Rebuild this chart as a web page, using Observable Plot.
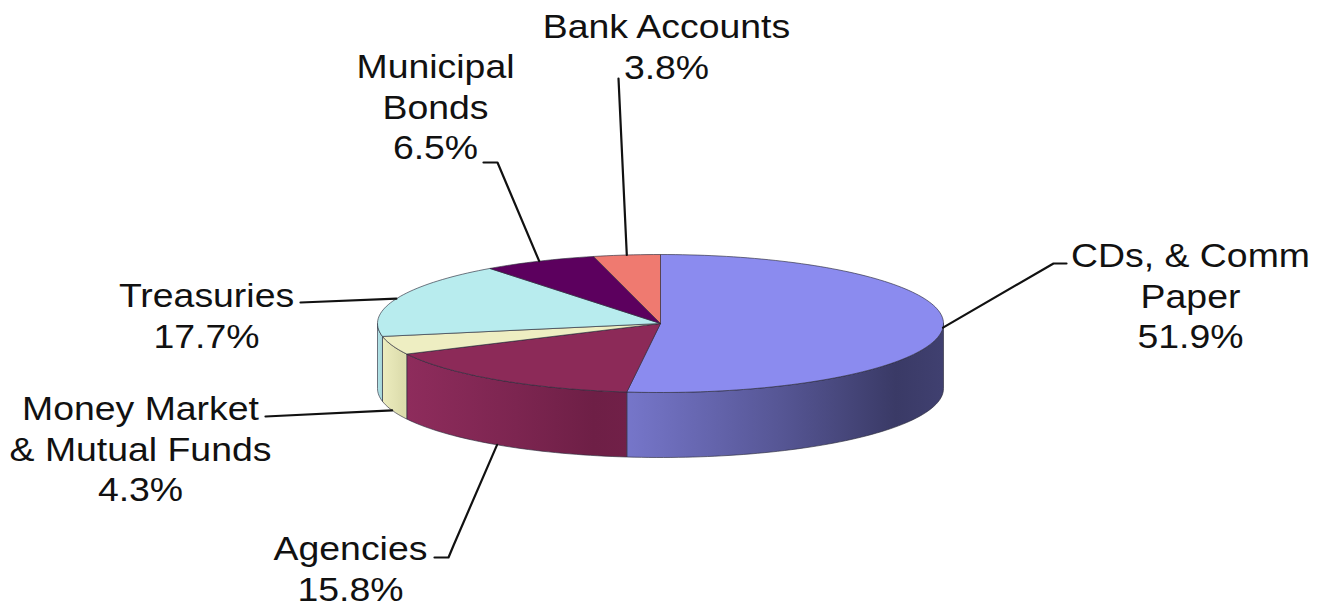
<!DOCTYPE html>
<html><head><meta charset="utf-8">
<script src="https://cdn.jsdelivr.net/npm/d3@7"></script>
<script src="https://cdn.jsdelivr.net/npm/@observablehq/plot@0.6"></script>
<style>body{margin:0;background:#fff}</style>
</head><body><div id="chart"></div>
<script>
// ---- data ----
const categories = ["CDs, & Comm Paper", "Agencies", "Money Market & Mutual Funds", "Treasuries", "Municipal Bonds", "Bank Accounts"];
const labelLines = [["CDs, & Comm", "Paper"], ["Agencies"], ["Money Market", "& Mutual Funds"], ["Treasuries"], ["Municipal", "Bonds"], ["Bank Accounts"]];
const values = [51.9, 15.8, 4.3, 17.7, 6.5, 3.8];
const topColors = ["#8b8bef", "#8c2a58", "#eeeec2", "#b8ecee", "#5c005e", "#ef7a70"];
const sideLight = ["#7676ca", "#8e2c5c", "#ececbe", "#b2e4e8", "#5c005e", "#ef7a70"];
const sideDark = ["#3a3a66", "#6e1f46", "#dcdcac", "#a6d6da", "#4a004c", "#c86058"];

// ---- layout ----
const W = 1322, H = 609;
const cx = 660, cy = 323, rx = 283, ry = 69, depth = 65;
const labelLayout = [
  {x: 1190, y: 294, anchor: "top", path: [[1053, 263], [1066, 263]]},
  {x: 350, y: 567, anchor: "bottom", path: [[453, 545], [448, 557], [434, 557]]},
  {x: 140, y: 447, anchor: "bottom", path: [[265, 416]]},
  {x: 206, y: 314, anchor: "top", path: [[300, 302]]},
  {x: 435, y: 105, anchor: "top", path: [[497, 162], [483, 162]]},
  {x: 666, y: 45, anchor: "top", path: [[618, 78]]}
];

const rad = d => d * Math.PI / 180;
const px = a => cx + rx * Math.sin(rad(a));
const py = a => cy - ry * Math.cos(rad(a));
function arc(a0, a1, dy = 0) {
  const n = Math.max(2, Math.ceil(Math.abs(a1 - a0) / 1.5));
  return d3.range(n + 1).map(k => { const a = a0 + (a1 - a0) * k / n; return {x: px(a), y: py(a) + dy}; });
}

const total = d3.sum(values);
let acc = 0;
const slices = values.map((v, i) => {
  const a0 = acc / total * 360; acc += v; const a1 = acc / total * 360;
  return {i, a0, a1, mid: (a0 + a1) / 2};
});

const marks = [];
// sides (front half: 90..270)
for (const s of slices) {
  const lo = Math.max(s.a0, 90), hi = Math.min(s.a1, 270);
  if (hi <= lo) continue;
  const pts = [...arc(lo, hi), ...arc(hi, lo, depth)];
  pts.push(pts[0]);
  marks.push(Plot.line(pts, {x: "x", y: "y", fill: `url(#side${s.i})`, stroke: "#2a2a3a", strokeWidth: 0.8, strokeOpacity: 0.8}));
}
// tops
for (const s of slices) {
  const pts = [{x: cx, y: cy}, ...arc(s.a0, s.a1), {x: cx, y: cy}];
  marks.push(Plot.line(pts, {x: "x", y: "y", fill: topColors[s.i], stroke: "#2a2a3a", strokeWidth: 0.8, strokeOpacity: 0.8}));
}
// leader lines
const leaders = [];
slices.forEach((s, i) => {
  const L = labelLayout[i];
  const start = {x: px(s.mid), y: py(s.mid) + (L.anchor === "bottom" ? depth : 0)};
  const pts = [start, ...L.path.map(([x, y]) => ({x, y}))];
  pts.forEach(p => leaders.push({...p, k: i}));
});
marks.push(Plot.line(leaders, {x: "x", y: "y", z: "k", stroke: "#111", strokeWidth: 2.2}));
// labels
const labels = slices.map((s, i) => ({
  x: labelLayout[i].x, y: labelLayout[i].y,
  text: [...labelLines[i], values[i].toFixed(1) + "%"].join("\n")
}));
marks.push(Plot.text(labels, {x: "x", y: "y", text: "text", fontSize: 34, lineHeight: 1.2, fill: "#111", textAnchor: "middle", lineAnchor: "middle", fontFamily: "'Liberation Sans', Arial, sans-serif"}));

const svg = Plot.plot({
  width: W, height: H, margin: 0,
  x: {type: "identity", axis: null},
  y: {type: "identity", axis: null},
  style: {background: "#fff", overflow: "visible"},
  marks
});
const defs = d3.select(svg).insert("defs", ":first-child");
slices.forEach(s => {
  const g = defs.append("linearGradient").attr("id", `side${s.i}`).attr("x1", 0).attr("x2", 1).attr("y1", 0).attr("y2", 0);
  const mid = d3.interpolateRgb(sideLight[s.i], sideDark[s.i]);
  g.append("stop").attr("offset", 0).attr("stop-color", sideLight[s.i]);
  g.append("stop").attr("offset", 0.5).attr("stop-color", mid(0.55));
  g.append("stop").attr("offset", 0.85).attr("stop-color", sideDark[s.i]);
  g.append("stop").attr("offset", 1).attr("stop-color", mid(0.9));
});
// the reference text is slightly stretched horizontally
d3.select(svg).selectAll("text").each(function() {
  const t = this.getAttribute("transform");
  if (t && t.includes("translate")) this.setAttribute("transform", t + " scale(1.1,1)");
});
document.getElementById("chart").appendChild(svg);
</script>
</body></html>
